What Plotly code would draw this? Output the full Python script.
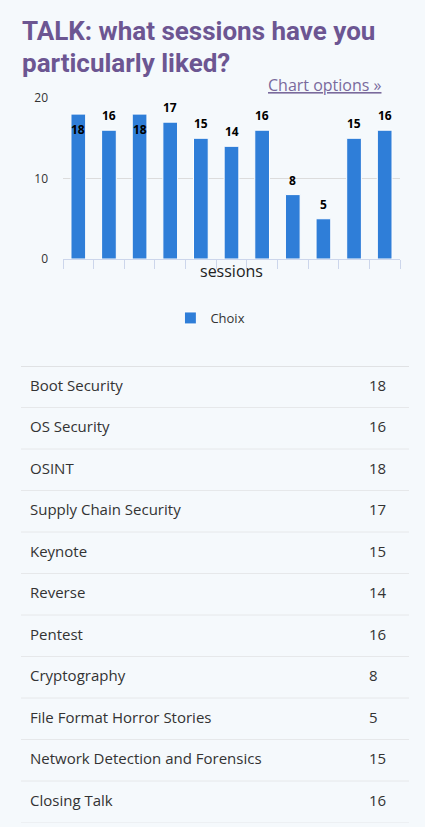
import plotly.graph_objects as go

sessions = ["Boot Security", "OS Security", "OSINT", "Supply Chain Security", "Keynote",
            "Reverse", "Pentest", "Cryptography", "File Format Horror Stories",
            "Network Detection and Forensics", "Closing Talk"]
votes = [18, 16, 18, 17, 15, 14, 16, 8, 5, 15, 16]
series_name = "Choix"
y_ticks = [0, 10, 20]
title_lines = ["TALK: what sessions have you", "particularly liked?"]
link_text = "Chart options »"
x_title = "sessions"

W, H = 425, 827
BG = "#f5f9fc"
BLUE = "#2f7ed8"
PURPLE = "#6c5692"
FONT = "Open Sans"


def py(p):
    return 1 - p / H


def px(p):
    return p / W


fig = go.Figure()

fig.add_trace(go.Bar(
    x=sessions, y=votes, name=series_name,
    marker=dict(color=BLUE, line=dict(color="#ffffff", width=1)),
    xaxis="x", yaxis="y", showlegend=True, hoverinfo="x+y",
))

# table as text on second axes
fig.add_trace(go.Scatter(
    x=[30] * len(sessions), y=list(range(len(sessions))), text=sessions,
    mode="text", textposition="middle right",
    textfont=dict(family=FONT, size=15, color="#333333"),
    xaxis="x2", yaxis="y2", showlegend=False, hoverinfo="skip",
))
fig.add_trace(go.Scatter(
    x=[369] * len(votes), y=list(range(len(votes))), text=[str(v) for v in votes],
    mode="text", textposition="middle right",
    textfont=dict(family=FONT, size=15, color="#333333"),
    xaxis="x2", yaxis="y2", showlegend=False, hoverinfo="skip",
))

ymax = max(y_ticks)
annotations = []
for s, v in zip(sessions, votes):
    inside = v >= ymax - 2
    annotations.append(dict(
        x=s, y=v, xref="x", yref="y", text=str(v), showarrow=False,
        yanchor="top" if inside else "bottom",
        yshift=-5 if inside else 4,
        font=dict(family=FONT, size=12, color="#000000", weight="bold"),
    ))

for i, line in enumerate(title_lines):
    annotations.append(dict(
        x=px(20), y=py(31 + 32 * i), xref="paper", yref="paper", xanchor="left",
        yanchor="middle", text=line, align="left", showarrow=False,
        font=dict(family="Roboto", size=26, color=PURPLE, weight=700)))

annotations += [
    dict(x=px(384), y=py(85), xref="paper", yref="paper", xanchor="right", yanchor="middle",
         text="<u>" + link_text + "</u>", showarrow=False,
         font=dict(family=FONT, size=16, color="#7a6a9c")),
    dict(x=px(231.5), y=py(271), xref="paper", yref="paper", xanchor="center", yanchor="middle",
         text=x_title, showarrow=False,
         font=dict(family=FONT, size=16, color="#222222")),
]

shapes = []
n = len(sessions)
for i in range(n + 1):
    shapes.append(dict(
        type="line", xref="paper", yref="y2", x0=px(21), x1=px(409),
        y0=i - 0.5, y1=i - 0.5,
        line=dict(color="#cccccc" if i == 0 else "#e6e8ea", width=1),
    ))

fig.update_layout(
    width=W, height=H,
    margin=dict(l=0, r=0, t=0, b=0, autoexpand=False),
    paper_bgcolor=BG, plot_bgcolor=BG,
    bargap=0.52,
    font=dict(family=FONT, color="#333333"),
    xaxis=dict(
        domain=[px(63), px(400)], anchor="y",
        showticklabels=False, showgrid=False,
        ticks="outside", tickson="boundaries", ticklen=9, tickcolor="#ccd6eb",
        showline=True, linecolor="#ccd6eb", linewidth=1, fixedrange=True,
    ),
    yaxis=dict(
        domain=[py(259), py(98)], anchor="x",
        range=[0, ymax], tickvals=y_ticks,
        showgrid=True, gridcolor="#dcdcdc", zeroline=False,
        tickfont=dict(family=FONT, size=12, color="#333333"),
        ticklabelstandoff=14, fixedrange=True,
    ),
    xaxis2=dict(domain=[0, 1], range=[0, W], anchor="y2", visible=False, fixedrange=True),
    yaxis2=dict(domain=[py(822.5), py(366)], range=[n - 0.5, -0.5], anchor="x2",
                visible=False, fixedrange=True),
    legend=dict(orientation="h", x=0.495, xanchor="center", y=py(318), yanchor="middle",
                font=dict(family=FONT, size=13, color="#333333"), bgcolor="rgba(0,0,0,0)"),
    annotations=annotations,
    shapes=shapes,
    showlegend=True,
)

fig.write_html("out.html", config={"displayModeBar": False})
